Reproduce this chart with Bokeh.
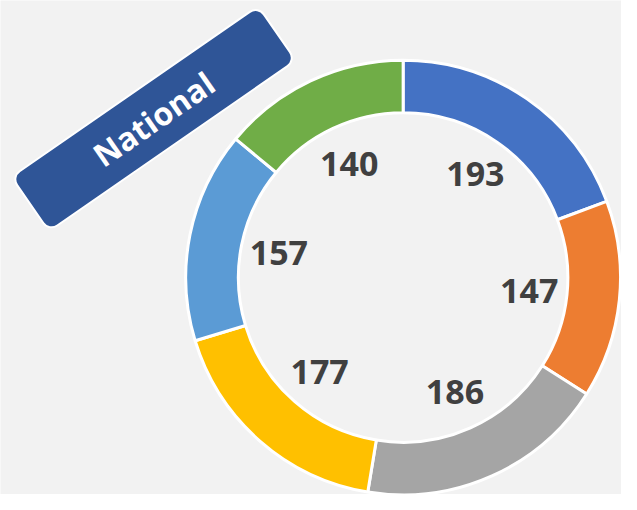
import numpy as np
from bokeh.plotting import figure
from bokeh.models import Range1d, ColumnDataSource
from bokeh.core.properties import value
from bokeh.embed import file_html
from bokeh.resources import INLINE

# data
categories = ["A", "B", "C", "D", "E", "F"]
values = [193, 147, 186, 177, 157, 140]
colors = ["#4472C4", "#ED7D31", "#A5A5A5", "#FFC000", "#5B9BD5", "#70AD47"]
title_label = "National"

# layout (pixels of the 637x510 picture; data y runs upward)
W, H = 637, 510
cx, cy = 413, H - 286
r_out, r_in, r_lab = 223, 169, 130

vals = np.array(values, dtype=float)
frac = vals / vals.sum()
cum = np.concatenate([[0], np.cumsum(frac)])
start = np.pi / 2 - cum[:-1] * 2 * np.pi
end = np.pi / 2 - cum[1:] * 2 * np.pi
mid = (start + end) / 2

src = ColumnDataSource(dict(
    cat=categories, start=start, end=end, color=colors,
    lx=cx + r_lab * np.cos(mid), ly=cy + r_lab * np.sin(mid),
    txt=[str(v) for v in values],
))

p = figure(width=621, height=494, x_range=Range1d(0, W), y_range=Range1d(0, H),
           output_backend="svg", toolbar_location=None, min_border=0)
p.axis.visible = False
p.grid.visible = False
p.outline_line_color = None
p.background_fill_color = "#F2F2F2"
p.border_fill_color = "#F2F2F2"

p.annular_wedge(x=cx, y=cy, inner_radius=r_in, outer_radius=r_out,
                start_angle="start", end_angle="end", direction="clock",
                fill_color="color", line_color="white", line_width=3, source=src)

p.text(x="lx", y="ly", text="txt", source=src, text_align="center",
       text_baseline="middle", text_font=value("Open Sans"), text_font_style="bold",
       text_font_size="34px", text_color="#404040")

# rotated title box
bx, by, ang = 157, H - 122, 34.7
p.rect(x=[bx], y=[by], width=300, height=66, width_units="screen", height_units="screen",
       angle=ang, angle_units="deg", fill_color="#2F5597", line_color="white",
       line_width=2, border_radius=10)
p.text(x=[bx], y=[by], text=[title_label], angle=ang, angle_units="deg",
       text_align="center", text_baseline="middle", text_font=value("Open Sans"),
       text_font_style="bold", text_font_size="32px", text_color="white")

open("out.html", "w").write(file_html(p, INLINE))
